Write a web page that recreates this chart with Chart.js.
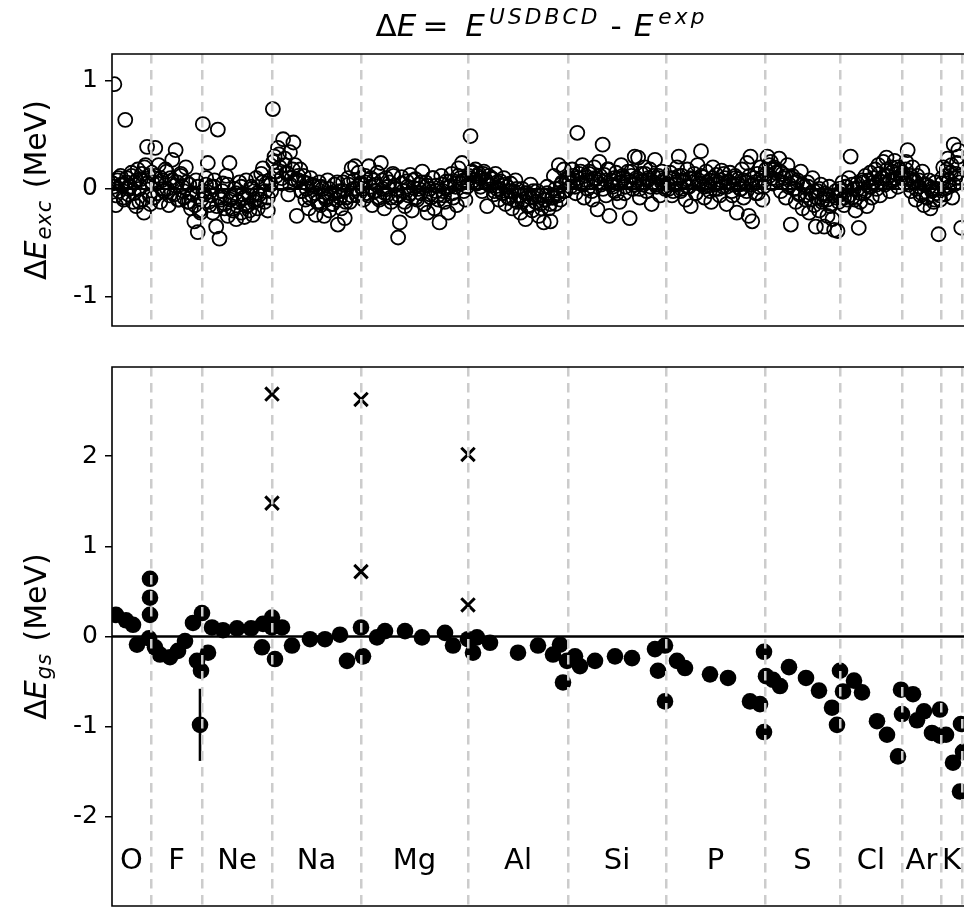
<!DOCTYPE html>
<html>
<head>
<meta charset="utf-8">
<script src="https://cdn.jsdelivr.net/npm/chart.js@4.4.0/dist/chart.umd.min.js"></script>
<style>
  html, body { margin: 0; padding: 0; background: #fff; overflow: hidden; }
  #wrap { position: relative; width: 964px; height: 907px; }
  canvas { position: absolute; left: 0; }
  #excChart { top: 0; }
  #gsChart { top: 340px; }
</style>
</head>
<body>
<div id="wrap">
  <canvas id="excChart" width="964" height="340"></canvas>
  <canvas id="gsChart" width="964" height="567"></canvas>
</div>
<script>
// elements along the x axis and the state index where each block starts (last = end)
const elements = ['O', 'F', 'Ne', 'Na', 'Mg', 'Al', 'Si', 'P', 'S', 'Cl', 'Ar', 'K'];
const bounds = [0, 39, 90, 160, 249, 356, 456, 554, 653, 728, 790, 829, 850];
const xMax = 852;

// excitation energy differences (MeV) per element; each row is spread over the element's block
const excO = [
  [0.05, 0.97, -0.15, 0.08, -0.02, 0.12, 0.03, -0.08, 0.64, 0.10, -0.05, 0.02, 0.15, -0.12, 0.06, -0.16, 0.18, 0.00, 0.09, -0.10, -0.22, 0.22, 0.39, 0.12, -0.14],
  [0.02, -0.06, 0.10, 0.04, -0.10, 0.06, 0.00, 0.12, -0.04, 0.08, -0.12, 0.14, 0.20, 0.05, -0.06]
];
const excF = [
  [0.15, -0.08, 0.38, 0.05, 0.22, -0.12, 0.08, -0.02, 0.18, 0.00, -0.15, 0.10, 0.27, -0.05, 0.36, 0.06, -0.10, 0.14, 0.02, -0.08, 0.20, -0.12, 0.04, -0.18, -0.05, -0.30, 0.08, -0.40, -0.20, -0.10],
  [0.06, 0.12, -0.04, 0.10, 0.00, 0.16, -0.06, 0.08, 0.03, -0.10, 0.12, -0.02, 0.06, -0.12, -0.04, -0.15, 0.02, -0.22]
];
const excNe = [
  [0.60, -0.05, 0.10, 0.24, -0.15, 0.02, -0.22, 0.08, -0.35, 0.55, -0.46, -0.10, 0.05, -0.18, 0.12, -0.25, 0.24, -0.08, -0.20, 0.00, -0.28, -0.12, 0.06, -0.22, -0.05, -0.26, 0.08, -0.15, -0.20, 0.02, -0.24, -0.10, 0.10, -0.18, -0.05, 0.14, 0.19, -0.12, 0.05, -0.20, 0.08, -0.02],
  [-0.02, 0.04, -0.12, -0.06, 0.02, -0.16, -0.08, -0.02, -0.14, 0.04, -0.10, -0.18, -0.04, -0.12, 0.02, -0.08, -0.16, -0.06, 0.00, -0.12, -0.04, -0.10, 0.06, -0.02, -0.08, 0.04]
];
const excNa = [
  [0.74, 0.30, 0.12, 0.38, 0.20, 0.05, 0.46, 0.28, 0.15, -0.05, 0.34, 0.10, 0.43, 0.22, -0.25, 0.08, 0.18, -0.02, 0.12, -0.10, 0.05, -0.18, 0.10, -0.06, 0.02, -0.24, -0.12, 0.06, -0.15, 0.00, -0.25, -0.08, 0.08, -0.20, -0.04, -0.14, 0.04, -0.10, -0.33, -0.02, -0.18, 0.06, -0.27, -0.08, 0.10, -0.12, 0.19, 0.00, 0.21, -0.06, 0.15, 0.05],
  [0.25, 0.16, 0.32, 0.10, 0.22, 0.14, 0.04, 0.18, 0.08, 0.12, -0.02, 0.06, 0.00, -0.08, 0.04, -0.04, -0.12, 0.02, -0.06, -0.10, 0.00, -0.14, -0.04, 0.06, -0.08, -0.02, -0.12, 0.04, -0.06, 0.08, 0.00, -0.04]
];
const excMg = [
  [0.05, -0.10, 0.12, -0.04, 0.21, 0.02, -0.15, 0.08, -0.02, 0.15, -0.08, 0.24, 0.00, -0.18, 0.10, -0.05, 0.06, -0.12, 0.14, 0.03, -0.08, -0.45, -0.31, 0.11, -0.02, -0.16, 0.07, -0.06, 0.13, -0.20, 0.01, 0.09, -0.10, 0.04, -0.04, 0.16, -0.14, 0.06, -0.22, 0.00, -0.08, 0.10, -0.18, 0.03, -0.06, -0.31, 0.12, -0.02, -0.12, 0.07, -0.22, 0.02, 0.14, -0.08, 0.05, -0.15, 0.19, 0.10, 0.24, 0.08, -0.10, 0.02],
  [0.00, 0.06, -0.06, 0.10, -0.02, 0.04, -0.10, 0.08, -0.04, 0.02, -0.08, 0.12, 0.00, -0.06, 0.05, -0.12, 0.02, -0.04, 0.08, -0.08, 0.00, 0.06, -0.14, 0.03, -0.05, 0.10, -0.02, -0.10, 0.04, -0.06, 0.01, 0.07, -0.04, 0.02, 0.12, 0.05, -0.02, 0.08]
];
const excAl = [
  [0.12, 0.49, 0.15, 0.08, 0.18, 0.05, 0.14, 0.10, -0.02, 0.16, 0.06, -0.16, 0.12, 0.03, 0.09, -0.05, 0.14, 0.00, -0.10, 0.07, -0.04, 0.10, -0.14, 0.02, -0.08, 0.05, -0.18, -0.02, 0.08, -0.12, -0.06, -0.22, 0.00, -0.10, -0.28, -0.04, -0.15, 0.04, -0.20, -0.08, -0.12, -0.02, -0.25, -0.14, -0.06, -0.31, -0.10, 0.02, -0.18, -0.30, -0.08, 0.12, -0.14, -0.04, 0.22, -0.10, 0.06, 0.18, -0.02, 0.10],
  [0.10, 0.16, 0.06, 0.12, 0.02, 0.14, 0.08, 0.04, 0.10, -0.02, 0.06, 0.00, -0.04, 0.04, -0.08, -0.02, -0.10, 0.00, -0.06, -0.12, -0.04, -0.16, -0.08, -0.02, -0.12, -0.06, -0.18, -0.10, -0.04, -0.14, -0.08, 0.00, -0.06, 0.04, -0.02, 0.08]
];
const excSi = [
  [0.10, 0.02, 0.18, 0.08, -0.04, 0.52, 0.14, 0.05, 0.22, -0.08, 0.12, 0.00, 0.16, 0.06, -0.10, 0.20, 0.09, -0.19, 0.25, 0.04, 0.41, 0.13, -0.06, 0.18, -0.25, 0.08, 0.02, -0.02, 0.15, 0.05, -0.12, 0.22, 0.10, -0.04, 0.06, 0.16, -0.27, 0.12, 0.00, 0.30, 0.08, 0.29, -0.08, 0.14, 0.04, 0.20, -0.02, 0.10, 0.18, -0.14, 0.06, 0.27, 0.02, 0.12, -0.06, 0.16, 0.08, 0.00],
  [0.06, 0.12, 0.02, 0.10, 0.16, 0.04, 0.08, 0.14, -0.02, 0.10, 0.06, 0.12, 0.00, 0.08, 0.18, 0.04, 0.10, -0.04, 0.06, 0.12, 0.02, 0.08, 0.16, 0.04, 0.10, 0.00, 0.06, 0.14, 0.08, 0.02, 0.12, 0.04, 0.10, 0.06, 0.02]
];
const excP = [
  [0.08, 0.00, 0.15, -0.06, 0.10, 0.04, 0.20, 0.30, -0.02, 0.12, 0.06, -0.10, 0.18, 0.02, -0.16, 0.09, 0.14, -0.04, 0.22, 0.05, 0.35, 0.11, -0.08, 0.16, 0.03, 0.08, -0.12, 0.20, 0.00, 0.13, 0.06, -0.06, 0.17, 0.02, 0.10, -0.14, 0.07, 0.15, -0.02, 0.04, 0.12, -0.22, 0.09, 0.00, 0.18, -0.08, 0.06, 0.24, -0.25, 0.30, -0.30, 0.10, -0.04, 0.14, 0.02, 0.20, -0.10, 0.08],
  [0.04, 0.10, -0.02, 0.06, 0.12, 0.00, 0.08, 0.02, 0.10, 0.06, -0.04, 0.08, 0.12, 0.02, 0.06, -0.02, 0.10, 0.04, 0.00, 0.08, 0.14, 0.02, 0.06, -0.06, 0.10, 0.04, 0.00, 0.08, -0.02, 0.12, 0.04, 0.06, -0.04, 0.10, 0.02]
];
const excS = [
  [0.18, 0.30, 0.12, 0.25, 0.05, 0.20, 0.15, 0.08, 0.28, -0.02, 0.14, 0.10, -0.08, 0.22, 0.04, -0.33, 0.12, 0.00, -0.12, 0.08, -0.05, 0.16, -0.18, 0.02, -0.10, 0.06, -0.22, -0.04, 0.10, -0.15, -0.35, -0.02, -0.20, 0.04, -0.10, -0.35, -0.06, -0.25, 0.02, -0.14, -0.28, -0.38, -0.08, -0.39, 0.00],
  [0.14, 0.22, 0.10, 0.18, 0.08, 0.16, 0.06, 0.12, 0.02, 0.10, 0.00, 0.06, -0.04, 0.04, -0.06, 0.02, -0.10, -0.02, -0.08, 0.00, -0.12, -0.04, -0.10, -0.16, -0.06, -0.02, -0.12]
];
const excCl = [
  [-0.05, 0.06, -0.15, 0.02, -0.10, 0.10, 0.30, -0.08, 0.00, -0.20, 0.05, -0.36, -0.12, 0.08, -0.04, 0.12, -0.16, 0.02, 0.15, -0.08, 0.06, 0.18, 0.00, 0.22, -0.06, 0.10, 0.25, 0.04, 0.29, 0.12, -0.02, 0.20, 0.08, 0.26, 0.14, 0.02, 0.18, 0.10],
  [-0.02, -0.08, 0.02, -0.06, 0.04, -0.10, 0.00, -0.04, 0.06, -0.02, 0.08, 0.02, 0.10, 0.04, 0.14, 0.06, 0.12, 0.18, 0.08, 0.16, 0.10, 0.20, 0.12]
];
const excAr = [
  [0.15, 0.05, 0.25, 0.36, 0.10, -0.02, 0.20, 0.08, -0.10, 0.12, 0.02, -0.06, 0.16, -0.15, 0.04, -0.08, 0.08, -0.18, 0.00, -0.12, 0.06, -0.04, -0.42, -0.10],
  [0.10, 0.18, 0.04, 0.12, 0.06, 0.00, 0.08, -0.04, 0.04, -0.08, 0.02, -0.02, -0.10, 0.00, -0.06]
];
const excK = [
  [0.05, 0.20, -0.05, 0.12, 0.28, 0.02, 0.15, -0.08, 0.41, 0.10, 0.24, 0.36, 0.06, -0.36],
  [0.10, 0.00, 0.18, 0.08, 0.22, 0.04, 0.14, 0.30, 0.10]
];
const excByElement = [excO, excF, excNe, excNa, excMg, excAl, excSi, excP, excS, excCl, excAr, excK];

// ground-state differences (MeV): position, value, error
const gsX = [4, 14, 21, 25, 38, 38, 38, 37,
  43, 48, 58, 66, 73, 81, 85, 90, 89, 88, 96,
  100, 111, 125, 139, 150, 151, 160, 160, 163, 170, 180,
  198, 213, 228, 235, 249, 251, 265, 273,
  293, 310, 333, 341, 356, 361, 365, 378,
  406, 426, 441, 448, 451, 455, 463, 468, 483, 503, 520, 543, 553, 546, 553, 565, 573,
  598, 616, 638, 648, 652, 652, 654, 661, 668,
  677, 694, 707, 720, 728, 725, 731, 742, 750,
  765, 775, 786, 789, 790, 801, 805, 812,
  820, 828, 828, 834,
  841, 848, 849, 851];
const gsY = [0.24, 0.18, 0.13, -0.09, 0.64, 0.43, 0.24, -0.02,
  -0.12, -0.20, -0.23, -0.16, -0.05, 0.15, -0.27, 0.26, -0.38, -0.98, -0.18,
  0.10, 0.07, 0.09, 0.09, -0.12, 0.14, 0.21, 0.10, -0.25, 0.10, -0.10,
  -0.03, -0.03, 0.02, -0.27, 0.10, -0.22, -0.01, 0.06,
  0.06, -0.01, 0.04, -0.10, -0.03, -0.18, -0.01, -0.07,
  -0.18, -0.10, -0.20, -0.09, -0.51, -0.27, -0.22, -0.33, -0.27, -0.22, -0.24, -0.14, -0.10, -0.38, -0.72, -0.27, -0.35,
  -0.42, -0.46, -0.72, -0.75, -0.17, -1.06, -0.44, -0.48, -0.55,
  -0.34, -0.46, -0.60, -0.79, -0.38, -0.98, -0.61, -0.49, -0.62,
  -0.94, -1.09, -1.33, -0.59, -0.86, -0.64, -0.93, -0.83,
  -1.07, -0.81, -1.10, -1.09,
  -1.40, -1.72, -0.97, -1.28];
const gsErr = [0, 0, 0, 0, 0, 0, 0, 0,
  0, 0, 0, 0, 0, 0, 0, 0, 0, 0.40, 0,
  0, 0, 0, 0, 0, 0, 0, 0, 0, 0, 0,
  0, 0, 0, 0, 0, 0, 0, 0,
  0, 0, 0, 0, 0, 0, 0, 0,
  0, 0, 0, 0, 0, 0, 0, 0, 0, 0, 0, 0, 0, 0, 0, 0, 0,
  0, 0, 0, 0, 0, 0, 0, 0, 0,
  0, 0, 0, 0, 0, 0, 0, 0, 0,
  0, 0, 0, 0, 0, 0, 0, 0,
  0, 0, 0, 0,
  0, 0, 0, 0];

// nuclei without a bound measured ground state (crosses)
const unbX = [160, 160, 249, 249, 356, 356];
const unbY = [2.69, 1.48, 2.63, 0.72, 2.02, 0.35];

const excTicks = [-1, 0, 1];
const gsTicks = [-2, -1, 0, 1, 2];
const labelY = -2.5;

// spread each row of states evenly across its element's block
const excPoints = [];
excByElement.forEach((rows, k) => {
  rows.forEach(vals => {
    const w = (bounds[k + 1] - bounds[k]) / vals.length;
    vals.forEach((v, i) => excPoints.push({ x: bounds[k] + (i + 0.5) * w, y: v }));
  });
});
const gsPoints = gsX.map((x, i) => ({ x, y: gsY[i] }));
const unbPoints = unbX.map((x, i) => ({ x, y: unbY[i] }));
const zeroLine = [{ x: 0, y: 0 }, { x: xMax, y: 0 }];

const FAMILY = '"DejaVu Sans"';

// mathtext-like runs: [text, kind, leading pad]; kind r = roman, i = italic, sup/sub = small italic
function layoutRuns(ctx, runs, size) {
  const parts = [];
  let w = 0;
  for (const [text, kind, pad = 0] of runs) {
    const small = kind === 'sup' || kind === 'sub';
    const px = small ? size * 0.7 : size;
    const font = (kind === 'r' ? '' : 'italic ') + px + 'px ' + FAMILY;
    const track = kind === 'sup' ? size * 0.1 : kind === 'sub' ? size * 0.03 : 0;
    ctx.font = font;
    w += pad;
    const chars = [];
    for (const ch of text) {
      chars.push([ch, w]);
      w += ctx.measureText(ch).width + track;
    }
    w -= track;
    parts.push({ font, chars, dy: kind === 'sup' ? -size * 0.4 : kind === 'sub' ? size * 0.15 : 0 });
  }
  return { parts, width: w };
}

function drawRuns(ctx, runs, size, cx, baseline) {
  const { parts, width } = layoutRuns(ctx, runs, size);
  const x0 = cx - width / 2;
  ctx.textAlign = 'left';
  ctx.textBaseline = 'alphabetic';
  ctx.fillStyle = '#000';
  for (const p of parts) {
    ctx.font = p.font;
    for (const [ch, off] of p.chars) ctx.fillText(ch, x0 + off, baseline + p.dy);
  }
}

// axes box: top, left and bottom spines
const frame = {
  id: 'frame',
  afterDraw(chart) {
    const { ctx, chartArea: a } = chart;
    ctx.save();
    ctx.strokeStyle = '#000';
    ctx.lineWidth = 1.6;
    ctx.beginPath();
    ctx.moveTo(a.right + 2, a.top);
    ctx.lineTo(a.left, a.top);
    ctx.lineTo(a.left, a.bottom);
    ctx.lineTo(a.right + 2, a.bottom);
    ctx.stroke();
    ctx.restore();
  }
};

function yLabel(runs) {
  return {
    id: 'yLabel',
    afterDraw(chart) {
      const { ctx, chartArea: a } = chart;
      ctx.save();
      ctx.translate(46, (a.top + a.bottom) / 2);
      ctx.rotate(-Math.PI / 2);
      drawRuns(ctx, runs, 30, 0, 0);
      ctx.restore();
    }
  };
}

const title = {
  id: 'mathTitle',
  afterDraw(chart) {
    const { ctx, chartArea: a } = chart;
    ctx.save();
    drawRuns(ctx, [['Δ', 'r'], ['E', 'i'], ['=', 'r', 6], ['E', 'i', 17], ['USDBCD', 'sup', 4],
      ['-', 'r', 13], ['E', 'i', 12], ['exp', 'sup', 5]], 31, (a.left + a.right) / 2 + 2, 36);
    ctx.restore();
  }
};

const elementLabels = {
  id: 'elementLabels',
  afterDatasetsDraw(chart) {
    const { ctx, scales: { x, y } } = chart;
    ctx.save();
    ctx.font = '29px ' + FAMILY;
    ctx.fillStyle = '#000';
    ctx.textAlign = 'center';
    ctx.textBaseline = 'middle';
    elements.forEach((el, k) => {
      ctx.fillText(el, x.getPixelForValue((bounds[k] + bounds[k + 1]) / 2), y.getPixelForValue(labelY));
    });
    ctx.restore();
  }
};

const errorBars = {
  id: 'errorBars',
  beforeDatasetsDraw(chart) {
    const { ctx, scales: { x, y } } = chart;
    ctx.save();
    ctx.strokeStyle = '#000';
    ctx.lineWidth = 2.6;
    gsX.forEach((v, i) => {
      if (!gsErr[i]) return;
      const px = x.getPixelForValue(v);
      ctx.beginPath();
      ctx.moveTo(px, y.getPixelForValue(gsY[i] - gsErr[i]));
      ctx.lineTo(px, y.getPixelForValue(gsY[i] + gsErr[i]));
      ctx.stroke();
    });
    ctx.restore();
  }
};

function yScale(min, max, ticks) {
  return {
    type: 'linear',
    min, max,
    afterBuildTicks: s => { s.ticks = ticks.map(v => ({ value: v })); },
    afterFit: s => { s.width = 112; s.paddingTop = 0; s.paddingBottom = 0; },
    ticks: { font: { family: 'DejaVu Sans', size: 25 }, color: '#000', padding: 7, callback: v => String(v) },
    grid: { drawOnChartArea: false, drawTicks: true, tickLength: 7, color: '#000', lineWidth: 1.5 },
    border: { display: false }
  };
}

function xScale() {
  return {
    type: 'linear',
    min: 0, max: xMax,
    afterBuildTicks: s => { s.ticks = bounds.slice(1).map(v => ({ value: v })); },
    afterFit: s => { s.height = 0; s.paddingLeft = 0; s.paddingRight = 0; },
    ticks: { display: false, autoSkip: false },
    grid: { color: '#cccccc', lineWidth: 2.5, drawTicks: false, z: 1 },
    border: { display: false, dash: [9.5, 6.5] }
  };
}

const common = {
  responsive: false,
  devicePixelRatio: 1,
  animation: false,
  events: [],
  plugins: { legend: { display: false }, tooltip: { enabled: false } }
};

new Chart(document.getElementById('excChart'), {
  type: 'scatter',
  data: {
    datasets: [
      { data: excPoints, clip: 0, pointStyle: 'circle', pointRadius: 7, pointBorderWidth: 1.8,
        pointBorderColor: '#000', pointBackgroundColor: 'rgba(0,0,0,0)' },
      { data: zeroLine, clip: 0, showLine: true, borderColor: '#000', borderWidth: 2, pointRadius: 0 }
    ]
  },
  options: {
    ...common,
    layout: { autoPadding: false, padding: { top: 54, bottom: 14, left: 0, right: 0 } },
    scales: { x: xScale(), y: yScale(-1.27, 1.25, excTicks) }
  },
  plugins: [frame, title, yLabel([['Δ', 'r'], ['E', 'i'], ['exc', 'sub', 1], [' (MeV)', 'r', 3]])]
});

new Chart(document.getElementById('gsChart'), {
  type: 'scatter',
  data: {
    datasets: [
      { data: gsPoints, clip: 0, pointStyle: 'circle', pointRadius: 8.3, pointBorderWidth: 0,
        pointBackgroundColor: '#000' },
      { data: unbPoints, clip: 0, pointStyle: 'crossRot', pointRadius: 9.5, pointBorderWidth: 3,
        pointBorderColor: '#000' },
      { data: zeroLine, clip: 0, showLine: true, borderColor: '#000', borderWidth: 2.7, pointRadius: 0 }
    ]
  },
  options: {
    ...common,
    layout: { autoPadding: false, padding: { top: 27, bottom: 1, left: 0, right: 0 } },
    scales: { x: xScale(), y: yScale(-2.99, 2.99, gsTicks) }
  },
  plugins: [frame, errorBars, elementLabels, yLabel([['Δ', 'r'], ['E', 'i'], ['gs', 'sub', 1], [' (MeV)', 'r', 3]])]
});
</script>
</body>
</html>
